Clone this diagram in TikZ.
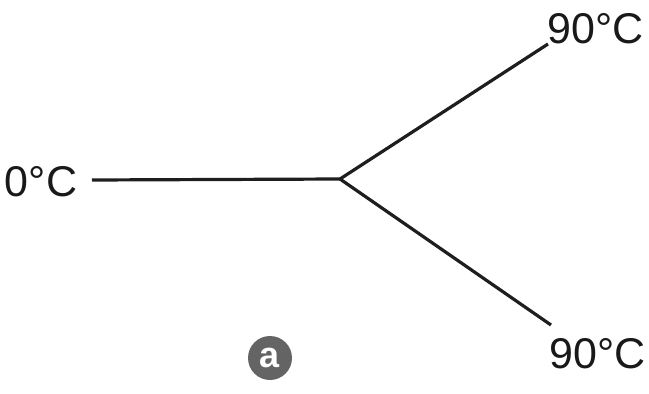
\documentclass[tikz,border=0pt]{standalone}
\usepackage{fontspec}
\setmainfont{Liberation Sans}
\begin{document}
\begin{tikzpicture}[x=1pt,y=-1pt,
  wire/.style={line width=3.2pt,draw={rgb,255:red,30;green,30;blue,30}},
  temp/.style={font=\fontsize{43}{43}\selectfont,text={rgb,255:red,25;green,25;blue,25},inner sep=0pt},
  badge/.style={circle,fill={rgb,255:red,100;green,100;blue,100},minimum size=44pt,inner sep=0pt,text=white,font=\fontsize{36}{36}\selectfont\bfseries}]
\useasboundingbox (0,0) rectangle (649,394);
\node[temp] (t0) at (41,182) {0°C};
\node[temp] (t1) at (596,29) {90°C};
\node[temp] (t2) at (598,354) {90°C};
\coordinate (l) at (92,180);
\coordinate (j) at (340,179);
\coordinate (u) at (548,44);
\coordinate (d) at (551,325);
\draw[wire] (l) -- (j);
\draw[wire] (j) -- (u);
\draw[wire] (j) -- (d);
\node[badge] (a) at (270,358) {a};
\end{tikzpicture}
\end{document}
